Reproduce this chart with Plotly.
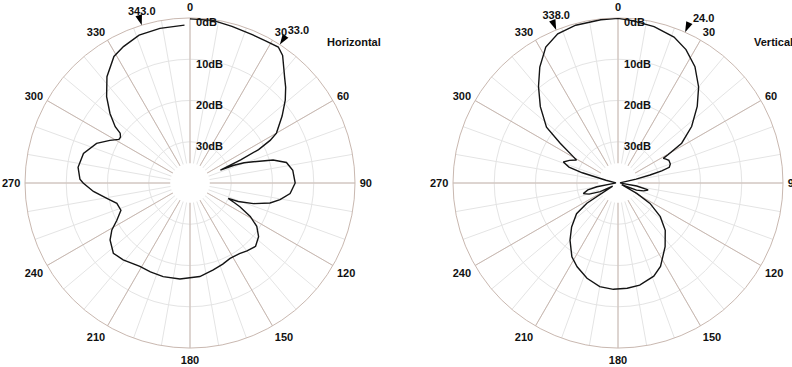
import plotly.graph_objects as go

# ---------------- data (attenuation in dB, angle in degrees clockwise from 0) ----------------
H_ANG = [0, 8, 15, 23, 28, 33, 36, 39, 42, 45, 49, 54, 60, 62, 64, 65.5, 67, 68, 69.5, 71.5,
         74.5, 78, 83, 90, 96, 100.5, 104, 108, 111, 112, 114, 115.5, 119, 123, 128, 134, 140,
         145, 152, 158, 165, 174, 186, 196, 204, 211, 221, 227.5, 234.5, 239, 243, 248.5, 254.5,
         259.5, 265, 270, 272, 278, 285.5, 293, 298, 301.5, 303.5, 305.5, 307, 311, 316, 322,
         329, 334, 341, 349, 358]
H_DB = [0.2, 0.2, 0.7, 1.0, 1.0, 0.7, 1.8, 3.9, 5.7, 7.2, 9.4, 12.4, 15.8, 18.0, 21.5, 26.5,
        32.0, 28.5, 26.0, 23.8, 19.1, 16.1, 14.9, 14.5, 15.6, 17.8, 20.0, 23.8, 27.5, 30.0,
        28.2, 26.6, 23.3, 20.7, 18.9, 17.9, 18.5, 19.1, 19.3, 18.8, 18.2, 17.2, 16.6, 16.4,
        16.4, 16.4, 15.3, 14.8, 16.2, 17.9, 20.1, 22.0, 21.6, 19.5, 16.5, 14.1, 13.3, 12.6,
        13.2, 15.4, 18.0, 19.8, 19.8, 19.2, 17.3, 14.3, 10.9, 7.3, 4.2, 3.2, 2.1, 1.8, 1.7]

V_ANG = [0, 5, 13, 21, 27, 33.5, 40, 46, 52.5, 58, 60.5, 61.5, 63.5, 66, 70, 73, 74.5, 76, 78,
         82, 88, 95, 99, 103, 107, 111, 115, 119, 122.5, 128.5, 135, 143.5, 153, 159, 168, 175,
         182.5, 190, 198, 206, 212, 220, 226.5, 233.5, 237, 240, 244, 249, 253, 257, 260, 265,
         275, 283, 286, 288, 291, 295, 299, 300.5, 304.5, 308, 314.5, 320.5, 326, 332, 338,
         345, 354, 360]
V_DB = [0.1, 0.5, 1.1, 2.1, 3.7, 6.2, 9.6, 13.3, 17.5, 21.8, 26.0, 27.5, 27.0, 26.5, 26.5,
        27.0, 29.0, 32.0, 35.5, 39.0, 39.5, 39.0, 35.4, 32.5, 33.5, 35.2, 39.0, 34.8, 30.8,
        26.9, 23.8, 20.8, 17.3, 15.8, 14.7, 14.4, 14.2, 14.5, 15.7, 17.4, 18.9, 21.9, 24.5,
        27.5, 31.0, 38.5, 35.2, 32.5, 31.2, 32.5, 34.8, 39.0, 39.5, 37.0, 31.0, 27.5, 25.8,
        27.0, 28.5, 27.4, 23.0, 18.0, 13.6, 9.7, 6.1, 2.7, 1.0, 0.4, 0.2, 0.1]

H_MARK_ANG = [343.0, 33.0]
V_MARK_ANG = [338.0, 24.0]
H_MARK_POS = ["top center", "top right"]
V_MARK_POS = ["top center", "top right"]

ANG_TICKS = list(range(0, 360, 30))
ANG_LABELS = [str(a) for a in ANG_TICKS]
DB_TICKS = [0, 10, 20, 30]
DB_LABELS = ["0dB", "10dB", "20dB", "30dB"]
TITLES = ["Horizontal", "Vertical"]

DB_RANGE = 40        # dB span from rim to centre
HOLE_DB = 4.8        # blank centre of the chart (in radial units)

FONT = "Arial, Liberation Sans, sans-serif"
MAJOR = "#c9b8b0"
MINOR = "#e4e4e4"
INK = "#141414"
BOLD = dict(family=FONT, size=11, color="#111", weight="bold")

W, H = 792, 367

fig = go.Figure()


def grid_polar(dom_x, dom_y):
    return dict(
        domain=dict(x=dom_x, y=dom_y),
        bgcolor="white",
        angularaxis=dict(rotation=90, direction="clockwise", tickmode="linear", tick0=0,
                         dtick=10, showticklabels=False, ticks="", gridcolor=MINOR,
                         gridwidth=1, showline=True, linecolor=MAJOR, linewidth=1),
        radialaxis=dict(range=[0, DB_RANGE], tickvals=[DB_RANGE - v for v in DB_TICKS[1:]],
                        showticklabels=False, ticks="", gridcolor=MINOR, showline=False),
    )


def top_polar(dom_x, dom_y):
    return dict(
        domain=dict(x=dom_x, y=dom_y),
        bgcolor="rgba(0,0,0,0)",
        angularaxis=dict(rotation=90, direction="clockwise", tickmode="array",
                         tickvals=ANG_TICKS, ticktext=ANG_LABELS, ticks="outside",
                         ticklen=2, tickcolor="rgba(0,0,0,0)",
                         gridcolor=MAJOR, gridwidth=1, showline=False, tickfont=BOLD),
        radialaxis=dict(range=[0, DB_RANGE], showgrid=False, showticklabels=False,
                        ticks="", showline=False),
    )


def add_grid(subplot):
    fig.add_trace(go.Scatterpolar(r=[None], theta=[None], mode="lines", hoverinfo="skip",
                                  showlegend=False, subplot=subplot))


def add_pattern(subplot, ang, db, mark_ang, mark_pos):
    # blank centre
    circ = list(range(0, 361, 5))
    fig.add_trace(go.Scatterpolar(r=[HOLE_DB] * len(circ), theta=circ, mode="lines",
                                  fill="toself", fillcolor="white", line=dict(width=0),
                                  hoverinfo="skip", showlegend=False, subplot=subplot))
    # pattern
    fig.add_trace(go.Scatterpolar(r=[DB_RANGE - d for d in db], theta=ang, mode="lines",
                                  line=dict(color=INK, width=1.4), showlegend=False,
                                  subplot=subplot))
    # dB labels
    fig.add_trace(go.Scatterpolar(r=[DB_RANGE - v for v in DB_TICKS], theta=[0] * len(DB_TICKS),
                                  mode="text", text=["  " + t for t in DB_LABELS],
                                  textposition="bottom right", textfont=BOLD,
                                  cliponaxis=False, hoverinfo="skip", showlegend=False,
                                  subplot=subplot))
    # beam markers
    fig.add_trace(go.Scatterpolar(r=[DB_RANGE] * len(mark_ang), theta=mark_ang,
                                  mode="markers+text", text=[f"{a:.1f}" for a in mark_ang],
                                  textposition=mark_pos, textfont=BOLD,
                                  marker=dict(symbol="arrow", size=11, color="black",
                                              angle=[a + 180 for a in mark_ang]),
                                  cliponaxis=False, showlegend=False, subplot=subplot))


R = 165
CY = 183
dy = [(H - (CY + R)) / H, (H - (CY - R)) / H]
left_x = [(190 - R) / W, (190 + R) / W]
right_x = [(618 - R) / W, (618 + R) / W]

add_grid("polar")
add_pattern("polar2", H_ANG, H_DB, H_MARK_ANG, H_MARK_POS)
add_grid("polar3")
add_pattern("polar4", V_ANG, V_DB, V_MARK_ANG, V_MARK_POS)

fig.update_layout(
    width=W, height=H,
    margin=dict(l=0, r=0, t=0, b=0),
    paper_bgcolor="white",
    font=dict(family=FONT, size=11, color="#111"),
    polar=grid_polar(left_x, dy),
    polar2=top_polar(left_x, dy),
    polar3=grid_polar(right_x, dy),
    polar4=top_polar(right_x, dy),
    showlegend=False,
    annotations=[
        dict(text=TITLES[0], x=325 / W, y=1 - 42 / H, xref="paper",
             yref="paper", xanchor="left", yanchor="middle", showarrow=False, font=BOLD),
        dict(text=TITLES[1], x=752 / W, y=1 - 42 / H, xref="paper",
             yref="paper", xanchor="left", yanchor="middle", showarrow=False, font=BOLD),
    ],
)

fig.write_html("out.html", config={"displayModeBar": False},
               post_script="document.body.style.margin='0';")
